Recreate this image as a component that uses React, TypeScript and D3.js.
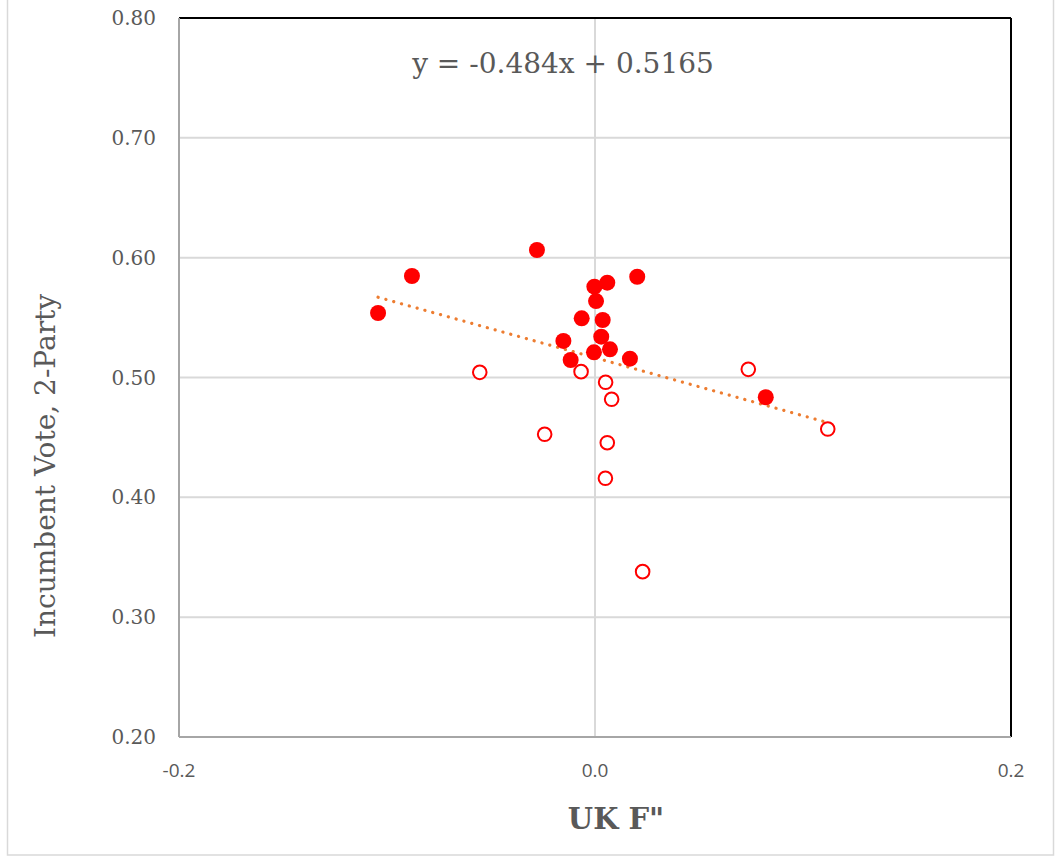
import React from "react";
import * as d3 from "d3";

const filledX = [-0.1043, -0.088, -0.0279, -0.0003, 0.0059, 0.0203, 0.0005, -0.0064, 0.0037, 0.003, -0.0152, -0.0005, 0.0072, -0.0117, 0.0168, 0.0821];
const filledY = [0.5538, 0.5847, 0.6064, 0.5758, 0.5791, 0.5841, 0.5638, 0.5494, 0.548, 0.5341, 0.5305, 0.521, 0.5235, 0.5146, 0.5157, 0.4835];
const openX = [-0.0554, -0.0067, 0.0051, 0.008, -0.0242, 0.0059, 0.005, 0.0229, 0.0737, 0.1119];
const openY = [0.5043, 0.5049, 0.496, 0.4818, 0.4526, 0.4456, 0.4159, 0.338, 0.5068, 0.457];
const trendSlope = -0.484;
const trendIntercept = 0.5165;
const xTicks = [-0.2, 0, 0.2];
const yTicks = [0.2, 0.3, 0.4, 0.5, 0.6, 0.7, 0.8];

export default function App() {
  const W = 1055, H = 857;
  const left = 179, right = 1011, top = 18, bottom = 737;
  const x = d3.scaleLinear().domain([-0.2, 0.2]).range([left, right]);
  const y = d3.scaleLinear().domain([0.2, 0.8]).range([bottom, top]);
  const allX = [...filledX, ...openX];
  const xmin = d3.min(allX)!, xmax = d3.max(allX)!;
  const line = d3.line<number>().x(d => x(d)).y(d => y(trendSlope * d + trendIntercept));
  const gray = "#595959";
  const eq = `y = ${trendSlope}x + ${trendIntercept}`;
  return (
    <svg width={W} height={H} style={{ position: "absolute", left: 0, top: 0, background: "#fff" }}>
      <rect x={7.5} y={-2} width={1046} height={857} fill="#fff" stroke="#D9D9D9" strokeWidth={1.5} />
      {yTicks.filter(t => t > 0.2 && t < 0.8).map(t => (
        <line key={"gy" + t} x1={left} x2={right} y1={y(t)} y2={y(t)} stroke="#D9D9D9" strokeWidth={2} />
      ))}
      <line x1={x(0)} x2={x(0)} y1={top} y2={bottom} stroke="#D9D9D9" strokeWidth={2} />
      <line x1={left} x2={right} y1={top} y2={top} stroke="#000" strokeWidth={2} />
      <line x1={right} x2={right} y1={top} y2={bottom} stroke="#000" strokeWidth={2} />
      <line x1={left} x2={left} y1={top} y2={bottom} stroke="#A6A6A6" strokeWidth={2} />
      <line x1={left} x2={right} y1={bottom} y2={bottom} stroke="#A6A6A6" strokeWidth={2} />
      {yTicks.map(t => (
        <text key={"ty" + t} x={156} y={y(t)} dy="0.35em" textAnchor="end" fontFamily="DejaVu Serif" fontSize={20} fill={gray}>
          {t.toFixed(2)}
        </text>
      ))}
      {xTicks.map(t => (
        <text key={"tx" + t} x={x(t)} y={777} textAnchor="middle" fontFamily="Open Sans" fontSize={19} fill={gray}>
          {t.toFixed(1)}
        </text>
      ))}
      <path d={line([xmin, xmax])!} fill="none" stroke="#ED7D31" strokeWidth={3.2} strokeLinecap="round" strokeDasharray="0.1 8" />
      {filledX.map((v, i) => (
        <circle key={"f" + i} cx={x(v)} cy={y(filledY[i])} r={8} fill="#FF0000" />
      ))}
      {openX.map((v, i) => (
        <circle key={"o" + i} cx={x(v)} cy={y(openY[i])} r={6.8} fill="#fff" stroke="#FF0000" strokeWidth={2} />
      ))}
      <text x={563} y={73} textAnchor="middle" fontFamily="DejaVu Serif" fontSize={28} fill={gray}>{eq}</text>
      <text transform={`translate(55,466) rotate(-90)`} textAnchor="middle" fontFamily="DejaVu Serif" fontSize={28} fill={gray}>
        Incumbent Vote, 2-Party
      </text>
      <text x={616} y={829} textAnchor="middle" fontFamily="DejaVu Serif" fontWeight="bold" fontSize={29} fill={gray}>
        UK F"
      </text>
    </svg>
  );
}
